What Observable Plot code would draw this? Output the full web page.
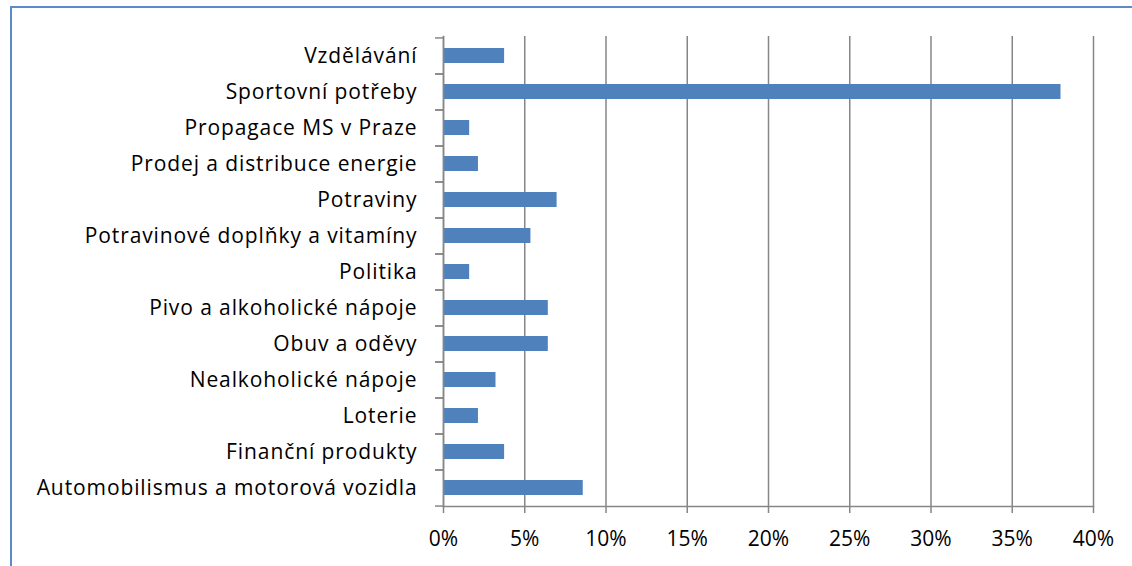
<!DOCTYPE html>
<html>
<head>
<meta charset="utf-8">
<script src="https://cdn.jsdelivr.net/npm/d3@7"></script>
<script src="https://cdn.jsdelivr.net/npm/@observablehq/plot@0.6"></script>
<style>
  html, body { margin: 0; padding: 0; background: #fff; }
  #wrap { position: relative; width: 1132px; height: 566px; overflow: hidden; }
  #frame { position: absolute; left: 10px; top: 6px; right: -10px; bottom: -10px;
           border-top: 2px solid #5b8bcb; border-left: 2px solid #5b8bcb; }
  #chart { position: absolute; left: 0; top: 0; }
  .ylab text { letter-spacing: 0.9px; }
</style>
</head>
<body>
<div id="wrap"><div id="chart"></div><div id="frame"></div></div>
<script>
const categories = [
  "Vzdělávání",
  "Sportovní potřeby",
  "Propagace MS v Praze",
  "Prodej a distribuce energie",
  "Potraviny",
  "Potravinové doplňky a vitamíny",
  "Politika",
  "Pivo a alkoholické nápoje",
  "Obuv a oděvy",
  "Nealkoholické nápoje",
  "Loterie",
  "Finanční produkty",
  "Automobilismus a motorová vozidla"
];
const shares = [0.0376, 0.380, 0.0161, 0.0215, 0.0699, 0.0538, 0.0161, 0.0645, 0.0645, 0.0323, 0.0215, 0.0376, 0.0860];
const xTicks = [0, 0.05, 0.10, 0.15, 0.20, 0.25, 0.30, 0.35, 0.40];

const data = categories.map((c, i) => ({category: c, share: shares[i]}));

const W = 1132, H = 566;
const mL = 443, mR = 39, mT = 36, mB = 60;
const step = (H - mT - mB) / categories.length;
const gray = "#868686";
const font = "'Open Sans', 'Noto Sans', sans-serif";
const fs = 21;

const chart = Plot.plot({
  width: W,
  height: H,
  marginLeft: mL,
  marginRight: mR,
  marginTop: mT,
  marginBottom: mB,
  style: {fontFamily: font, fontSize: fs + "px", color: "#000", background: "transparent", overflow: "visible"},
  x: {domain: [0, 0.4], label: null},
  y: {domain: categories, paddingInner: 0.59, paddingOuter: 0.295, label: null},
  marks: [
    Plot.gridX(xTicks, {stroke: gray, strokeOpacity: 1, strokeWidth: 1.5}),
    Plot.barX(data, {x: "share", y: "category", fill: "#4f81bd"}),
    Plot.axisY({tickSize: 0, tickPadding: 26, fontSize: fs, fill: "#000", label: null, className: "ylab"}),
    Plot.axisY({tickSize: 8, text: null, dy: -step / 2, stroke: gray, strokeWidth: 1.5, label: null}),
    Plot.axisY({tickSize: 8, text: null, dy: step / 2, stroke: gray, strokeWidth: 1.5, label: null}),
    Plot.axisX(xTicks, {tickSize: 7, tickPadding: 18, tickFormat: d3.format(".0%"), stroke: gray, strokeWidth: 1.5, fontSize: fs, fill: "#000", label: null}),
    Plot.frame({anchor: "bottom", stroke: gray, strokeWidth: 1.5, strokeOpacity: 1}),
    Plot.frame({anchor: "left", stroke: gray, strokeWidth: 1.5, strokeOpacity: 1})
  ]
});
document.getElementById("chart").appendChild(chart);
</script>
</body>
</html>
